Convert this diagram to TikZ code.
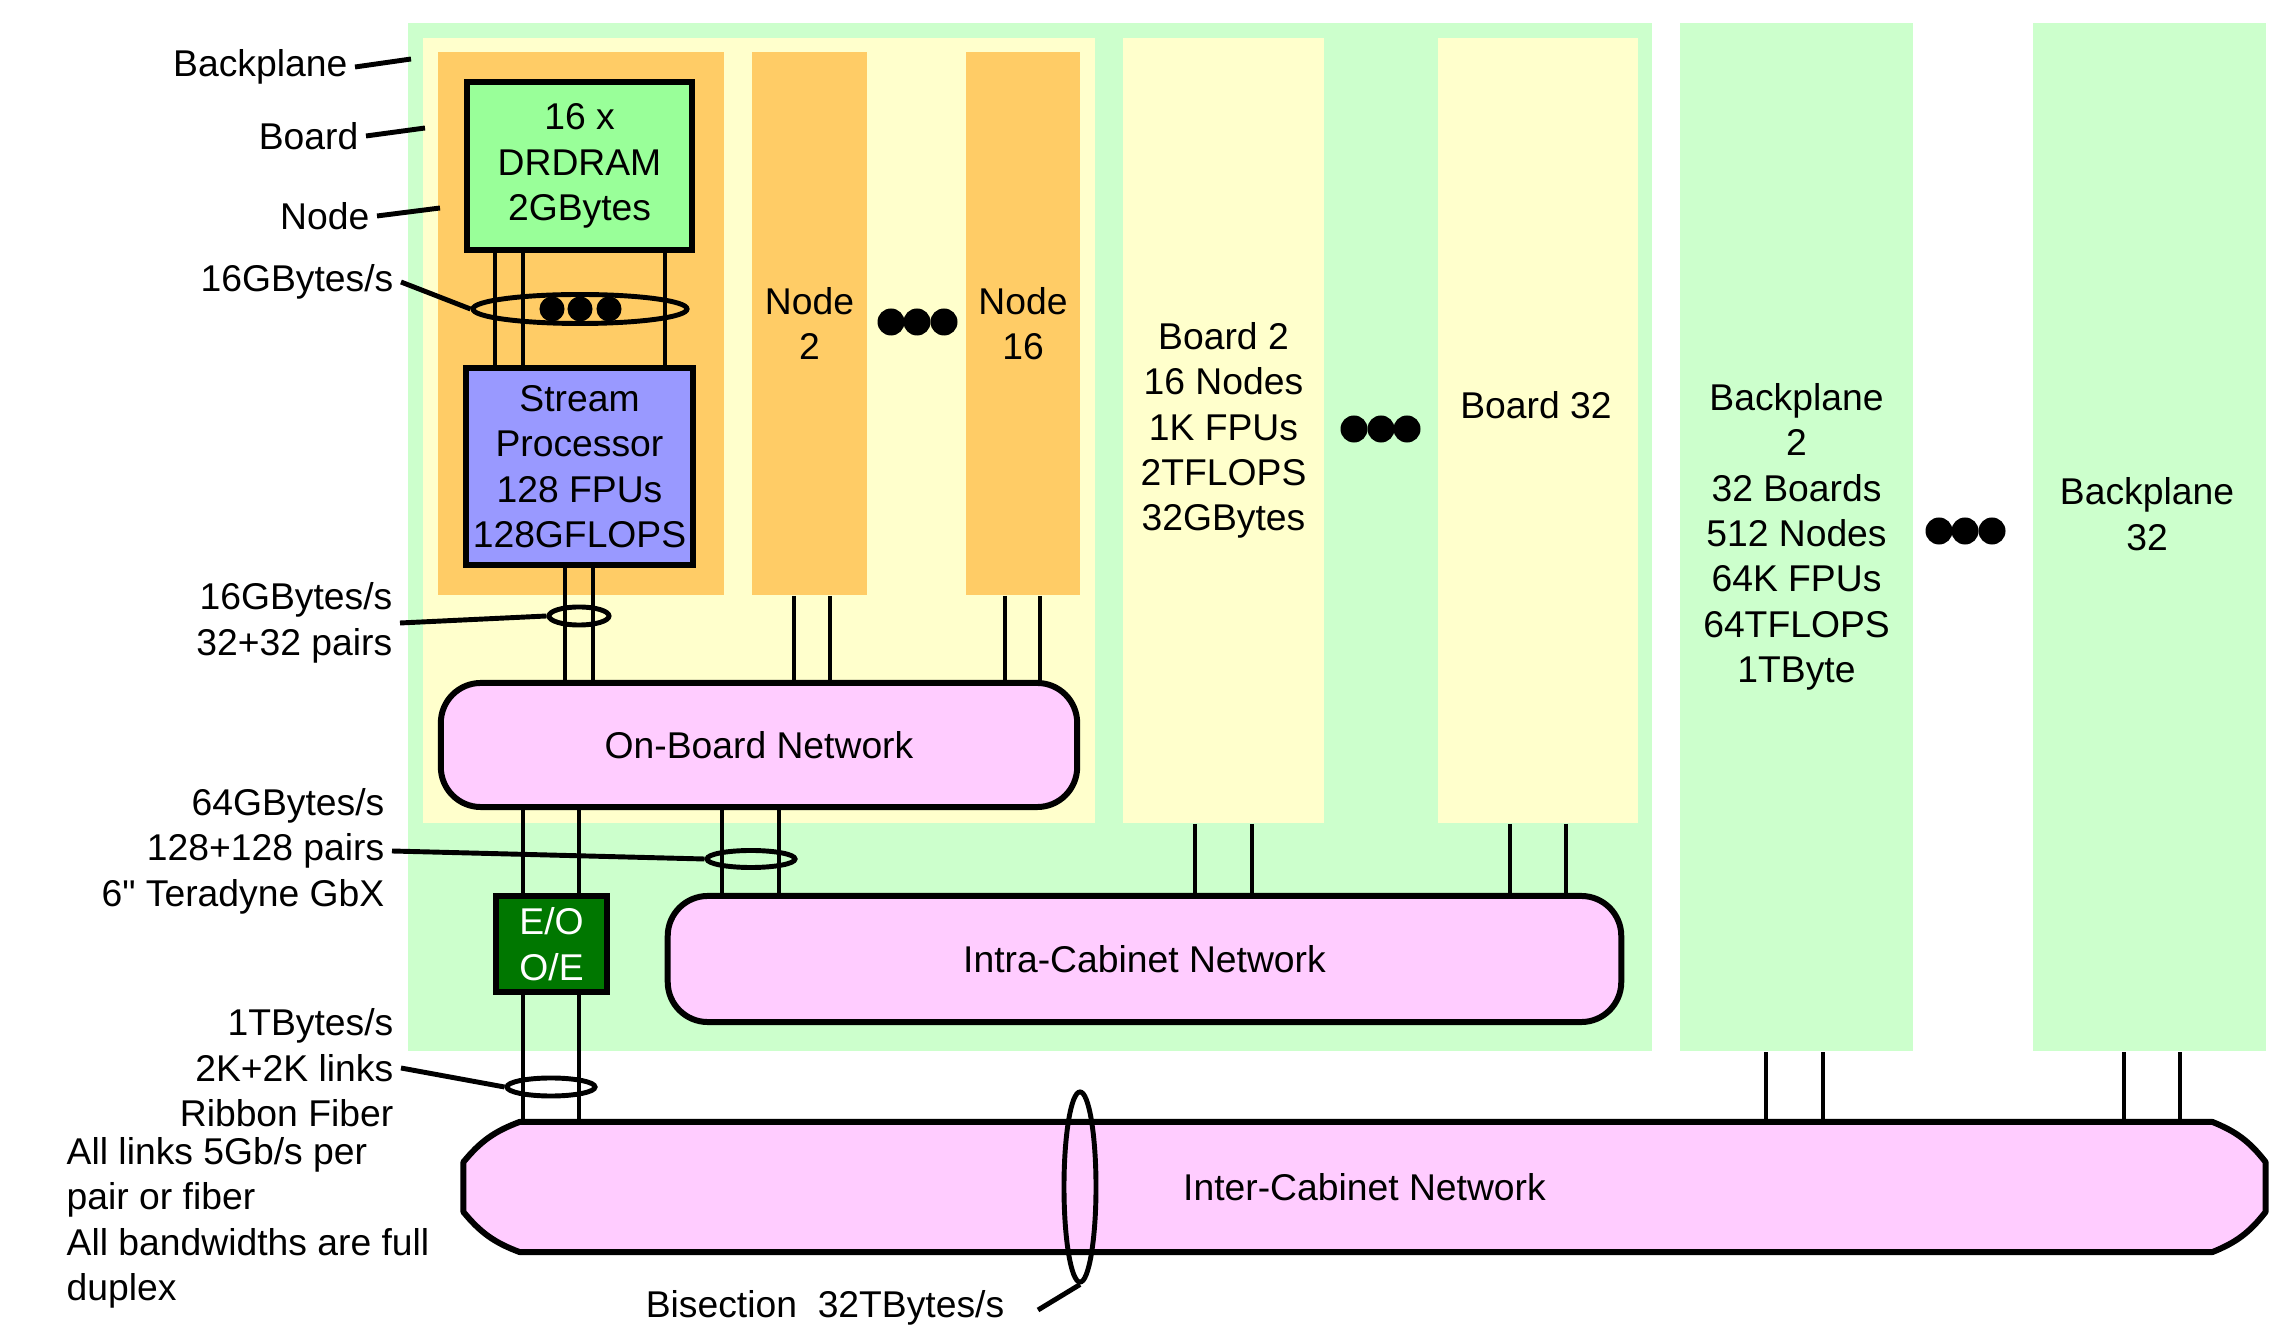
\documentclass[tikz,border=0pt]{standalone}
\usepackage{fontspec}
\setmainfont{Liberation Sans}
\newfontfamily\plainfont{Liberation Sans}
\usepackage{tikz}
\usetikzlibrary{shapes.geometric, positioning}
\definecolor{bpgreen}{RGB}{204,255,204}
\definecolor{brdyellow}{RGB}{255,255,204}
\definecolor{ndorange}{RGB}{255,204,102}
\definecolor{memgreen}{RGB}{153,255,153}
\definecolor{procblue}{RGB}{153,153,255}
\definecolor{netpink}{RGB}{255,204,255}
\definecolor{eogreen}{RGB}{0,119,0}
\pgfdeclarelayer{netlayer}
\pgfsetlayers{netlayer,main}
\tikzset{
  txt/.style={font=\fontsize{10.6pt}{12.9pt}\selectfont, align=center, inner sep=2pt},
  panel/.style={rectangle, draw=none, inner sep=0pt, txt},
  box/.style={rectangle, draw=black, line width=1.7pt, inner sep=0pt, txt},
  net/.style={rectangle, draw=black, fill=netpink, line width=1.7pt,
    rounded corners=0.4cm, txt},
  netline/.style={draw=black, fill=netpink, line width=1.7pt, line join=round},
  bundle/.style={ellipse, draw=black, line width=1.4pt, inner sep=0pt},
  dot/.style={circle, fill=black, inner sep=0pt, minimum size=0.27cm},
  link/.style={line width=1.4pt, color=black},
  leader/.style={line width=1.4pt, color=black},
  lbl/.style={txt, anchor=east, align=right}
}
\begin{document}
\begin{tikzpicture}[x=0.01cm, y=-0.01cm]
  \useasboundingbox (0,0) rectangle (2290,1328);

  % cabinet: backplanes, boards, nodes
  \node[panel, fill=bpgreen, minimum width=12.44cm, minimum height=10.28cm] (bp1) at (1030,537) {};
  \node[panel, fill=bpgreen, minimum width=2.33cm, minimum height=10.28cm] (bp2) at (1796.5,537)
    {Backplane\\2\\32 Boards\\512 Nodes\\64K FPUs\\64TFLOPS\\1TByte};
  \node[panel, fill=bpgreen, minimum width=2.33cm, minimum height=10.28cm] (bp32) at (2149.5,537) {};
  \node[txt] (bp32lbl) at (2147,514) {Backplane\\32};

  \node[panel, fill=brdyellow, minimum width=6.72cm, minimum height=7.85cm] (brd1) at (759,430.5) {};
  \node[panel, fill=brdyellow, minimum width=2.01cm, minimum height=7.85cm] (brd2) at (1223.5,430.5)
    {Board 2\\16 Nodes\\1K FPUs\\2TFLOPS\\32GBytes};
  \node[panel, fill=brdyellow, minimum width=2.00cm, minimum height=7.85cm] (brd32) at (1538,430.5) {};
  \node[txt] (brd32lbl) at (1536,405) {Board 32};

  \node[panel, fill=ndorange, minimum width=2.86cm, minimum height=5.43cm] (nd1) at (581,323.5) {};
  \node[panel, fill=ndorange, minimum width=1.15cm, minimum height=5.43cm] (nd2) at (809.5,323.5) {Node\\2};
  \node[panel, fill=ndorange, minimum width=1.14cm, minimum height=5.43cm] (nd16) at (1023,323.5) {Node\\16};

  \node[box, fill=memgreen, minimum width=2.25cm, minimum height=1.68cm] (dram) at (579.5,166)
    {16 x\\DRDRAM\\2GBytes};
  \node[box, fill=procblue, minimum width=2.25cm, minimum height=1.97cm] (proc) at (579.5,466.5)
    {Stream\\Processor\\128 FPUs\\128GFLOPS};

  % networks
  \node[net, minimum width=6.36cm, minimum height=1.24cm] (onb) at (759,745) {On-Board Network};
  \node[net, minimum width=9.53cm, minimum height=1.26cm] (intra) at (1144.5,959) {Intra-Cabinet Network};
  \node[box, fill=eogreen, text=white, minimum width=1.11cm, minimum height=0.96cm] (eo) at (551.5,944) {E/O\\O/E};
  \node[panel, outer sep=0pt, minimum width=18.01cm, minimum height=1.30cm] (inter) at (1364.5,1187)
    {Inter-Cabinet Network};
  \begin{pgfonlayer}{netlayer}
    \draw[netline] ([xshift=0.56cm]inter.north west) -- ([xshift=-0.53cm]inter.north east)
      to[bend left=15] ([yshift=-0.4cm]inter.north east) -- ([yshift=0.4cm]inter.south east)
      to[bend left=15] ([xshift=-0.53cm]inter.south east) -- ([xshift=0.56cm]inter.south west)
      to[bend left=15] ([yshift=0.4cm]inter.south west) -- ([yshift=-0.4cm]inter.north west)
      to[bend left=15] ([xshift=0.56cm]inter.north west) -- cycle;
  \end{pgfonlayer}

  \foreach \x [count=\i] in {891,917,944} \node[dot] (nddot\i) at (\x,322) {};
  \foreach \x [count=\i] in {1354,1381,1407} \node[dot] (brddot\i) at (\x,429) {};
  \foreach \x [count=\i] in {1939,1965,1992} \node[dot] (bpdot\i) at (\x,531) {};

  % links
  \foreach \x in {495,523,665} \draw[link] (\x,0 |- dram.south) -- (\x,0 |- proc.north);
  \foreach \x in {565,593} \draw[link] (\x,0 |- proc.south) -- (\x,0 |- onb.north);
  \foreach \x in {794,830} \draw[link] (\x,0 |- nd2.south) -- (\x,0 |- onb.north);
  \foreach \x in {1005,1040} \draw[link] (\x,0 |- nd16.south) -- (\x,0 |- onb.north);
  \foreach \x in {523,579} \draw[link] (\x,0 |- onb.south) -- (\x,0 |- eo.north);
  \foreach \x in {722,779} \draw[link] (\x,0 |- onb.south) -- (\x,0 |- intra.north);
  \foreach \x in {523,579} \draw[link] (\x,0 |- eo.south) -- (\x,0 |- inter.north);
  \foreach \x in {1195,1252} \draw[link] (\x,0 |- brd2.south) -- (\x,0 |- intra.north);
  \foreach \x in {1510,1566} \draw[link] (\x,0 |- brd32.south) -- (\x,0 |- intra.north);
  \foreach \x in {1766,1823} \draw[link] (\x,0 |- bp2.south) -- (\x,0 |- inter.north);
  \foreach \x in {2124,2180} \draw[link] (\x,0 |- bp32.south) -- (\x,0 |- inter.north);

  % bundles
  \node[bundle, minimum width=2.14cm, minimum height=0.29cm] (bund1) at (580,309) {};
  \foreach \x [count=\i] in {552,580,609} \node[dot, minimum size=0.25cm] (memdot\i) at (\x,309) {};
  \node[bundle, minimum width=0.60cm, minimum height=0.18cm] (bund2) at (579,616) {};
  \node[bundle, minimum width=0.88cm, minimum height=0.17cm] (bund3) at (751,859) {};
  \node[bundle, minimum width=0.88cm, minimum height=0.18cm] (bund4) at (551,1087) {};
  \node[bundle, minimum width=0.32cm, minimum height=1.90cm] (bisect) at (1080,1187) {};

  % labels
  \node[lbl] (lblbp) at (355,67) {Backplane};
  \node[lbl] (lblbrd) at (366,136) {Board};
  \node[lbl] (lblnd) at (377,216) {Node};
  \coordinate (bpmark) at (411,59);
  \coordinate (brdmark) at (425,128);
  \coordinate (ndmark) at (440,208);
  \draw[leader] (lblbp.east) -- (bpmark);
  \draw[leader] (lblbrd.east) -- (brdmark);
  \draw[leader] (lblnd.east) -- (ndmark);

  \node[lbl] (lblmem) at (401,282) {16GBytes/s};
  \node[lbl] (lblproc) at (400,623) {16GBytes/s\\32+32 pairs};
  \node[lbl] (lblbrdnet) at (392,851) {64GBytes/s\\128+128 pairs\\6{\plainfont"} Teradyne GbX};
  \node[lbl] (lblfib) at (401,1068) {1TBytes/s\\2K+2K links\\Ribbon Fiber};
  \draw[leader] (lblmem.east) -- (bund1.west);
  \draw[leader] (lblproc.east) -- (bund2.west);
  \draw[leader] (lblbrdnet.east) -- (bund3.west);
  \draw[leader] (lblfib.east) -- (bund4.west);

  \node[txt, anchor=west, align=left] (notes) at (59,1223)
    {All links 5Gb/s per\\pair or fiber\\All bandwidths are full\\duplex};

  \node[lbl] (bislbl) at (1012,1308) {Bisection\ \ 32TBytes/s};
  \coordinate (bisend) at (1038,1310);
  \draw[leader] (bisect.south) -- (bisend);
\end{tikzpicture}
\end{document}
